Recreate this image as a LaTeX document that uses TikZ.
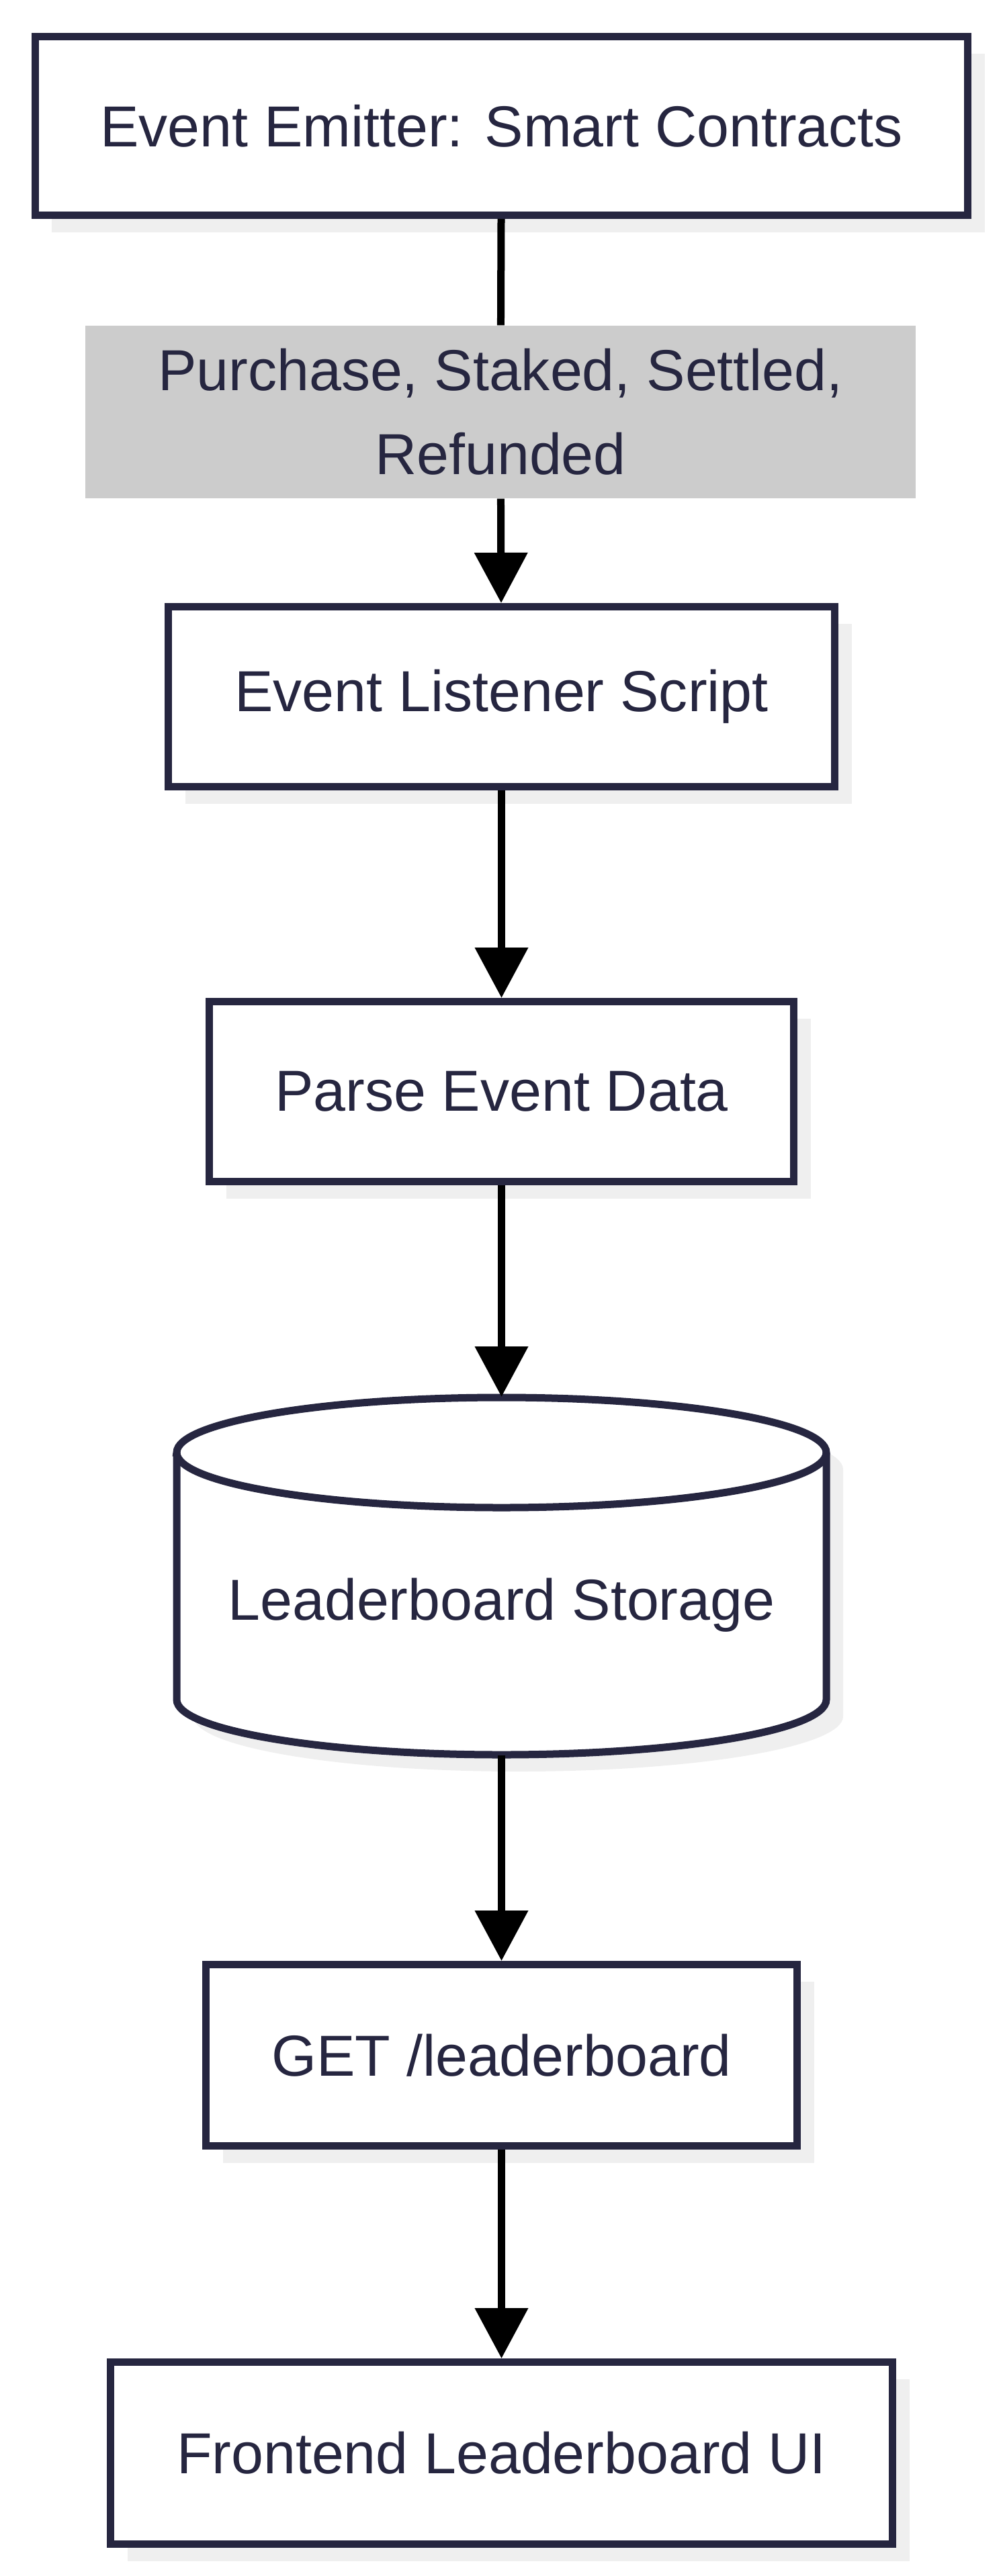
\documentclass[tikz,border=0pt]{standalone}
\usepackage{fontspec}
\setmainfont{Liberation Sans}
\usetikzlibrary{arrows.meta,shadows}
\definecolor{ink}{HTML}{262640}
\definecolor{shadowgrey}{HTML}{EFEFEF}
\definecolor{lblgrey}{HTML}{CCCCCC}

\begin{document}
\begin{tikzpicture}[
    txt/.style={text=ink, font=\fontsize{24.5}{35.5}\selectfont},
    box/.style={txt, draw=ink, line width=0.11cm, fill=white, inner sep=0pt,
        drop shadow={shadow xshift=0.25cm, shadow yshift=-0.25cm, fill=shadowgrey, opacity=1}},
    evlabel/.style={txt, fill=lblgrey, align=center, inner sep=0pt},
    flow/.style={line width=0.11cm, black},
    arr/.style={-{Triangle[length=0.75cm, width=0.77cm]}}
]
    \useasboundingbox (0,0) rectangle (14.93,-38.36);
    % Definitions
    \coordinate (stTop) at (7.465,-20.80);
    \coordinate (stBot) at (7.465,-26.14);
    % Boxes
    \node[box, minimum width=13.88cm, minimum height=2.66cm] (emitter)  at (7.465,-1.875)  {Event Emitter: Smart Contracts};
    \node[box, minimum width=9.92cm,  minimum height=2.68cm] (listener) at (7.465,-10.375) {Event Listener Script};
    \node[box, minimum width=8.70cm,  minimum height=2.68cm] (parse)    at (7.465,-16.255) {Parse Event Data};
    \node[box, minimum width=8.80cm,  minimum height=2.70cm] (get)      at (7.465,-30.605) {GET /leaderboard};
    \node[box, minimum width=11.64cm, minimum height=2.71cm] (front)    at (7.465,-36.53)  {Frontend Leaderboard UI};
    % Storage cylinder
    \fill[shadowgrey] (2.88,-21.88) -- (2.88,-25.56) arc[start angle=180, end angle=360, x radius=4.835, y radius=0.82]
        -- (12.55,-21.88) arc[start angle=0, end angle=180, x radius=4.835, y radius=0.82] -- cycle;
    \draw[ink, fill=white, line width=0.11cm] (2.63,-21.63) -- (2.63,-25.31)
        arc[start angle=180, end angle=360, x radius=4.835, y radius=0.82]
        -- (12.30,-21.63) arc[start angle=0, end angle=180, x radius=4.835, y radius=0.82] -- cycle;
    \draw[ink, line width=0.11cm] (2.63,-21.63) arc[start angle=180, end angle=360, x radius=4.835, y radius=0.82];
    \node[txt] (store) at (7.465,-23.90) {Leaderboard Storage};
    % Event label
    \node[evlabel, minimum width=12.36cm, minimum height=2.57cm] (evts) at (7.45,-6.135) {Purchase, Staked, Settled,\\Refunded};
    % Connectors
    \draw[flow]     (emitter) -- (evts);
    \draw[flow,arr] (evts)    -- (listener);
    \draw[flow,arr] (listener) -- (parse);
    \draw[flow,arr] (parse)   -- (stTop);
    \draw[flow,arr] (stBot)   -- (get);
    \draw[flow,arr] (get)     -- (front);
\end{tikzpicture}
\end{document}
